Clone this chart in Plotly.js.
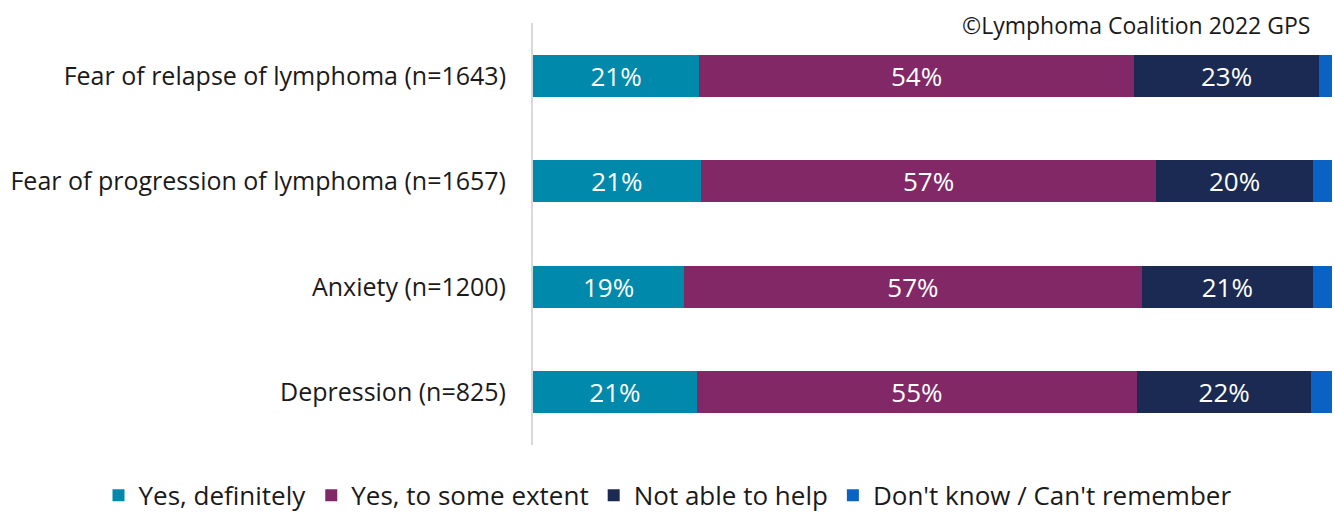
<!DOCTYPE html>
<html><head><meta charset="utf-8">
<script src="https://cdn.plot.ly/plotly-3.0.1.min.js"></script>
<style>html,body{margin:0;padding:0;background:#fff}#chart{width:1335px;height:514px}</style>
</head><body><div id="chart"></div>
<script>
const categories = ["Fear of relapse of lymphoma (n=1643)", "Fear of progression of lymphoma (n=1657)", "Anxiety (n=1200)", "Depression (n=825)"];
const seriesNames = ["Yes, definitely", "Yes, to some extent", "Not able to help", "Don't know / Can't remember"];
const yesDefinitely = [20.8, 21.0, 18.9, 20.5];
const yesSomeExtent = [54.4, 57.0, 57.3, 55.1];
const notAbleToHelp = [23.2, 19.6, 21.4, 21.8];
const dontKnow = [1.6, 2.4, 2.4, 2.6];
const labelsDefinitely = ["21%", "21%", "19%", "21%"];
const labelsSomeExtent = ["54%", "57%", "57%", "55%"];
const labelsNotAble = ["23%", "20%", "21%", "22%"];
const colors = ["#0089AB", "#832867", "#1B2A52", "#0A63C4"];

const FONT = "Open Sans, Noto Sans, sans-serif";
const series = [yesDefinitely, yesSomeExtent, notAbleToHelp, dontKnow];
const labels = [labelsDefinitely, labelsSomeExtent, labelsNotAble, null];
const traces = series.map((vals, i) => {
  const t = {
    type: "bar", orientation: "h", name: seriesNames[i],
    y: categories, x: vals,
    marker: {color: colors[i], line: {width: 0}},
    hoverinfo: "skip", width: 0.4
  };
  if (labels[i]) {
    t.text = labels[i];
    t.textposition = "inside";
    t.insidetextanchor = "middle";
    t.textfont = {color: "#ffffff", size: 26, family: FONT};
  } else {
    t.textposition = "none";
  }
  return t;
});
const layout = {
  width: 1335, height: 514,
  margin: {l: 3, r: 3, t: 23, b: 69},
  barmode: "stack",
  paper_bgcolor: "#ffffff", plot_bgcolor: "#ffffff",
  font: {family: FONT, color: "#1a1a1a", size: 25},
  xaxis: {range: [0, 100], domain: [0.3988, 1], visible: false, fixedrange: true},
  yaxis: {autorange: "reversed", showline: true, linecolor: "#d9d9d9", linewidth: 2,
          showgrid: false, zeroline: false, ticks: "", ticklabelstandoff: 20,
          automargin: false,
          tickfont: {size: 25, color: "#1a1a1a", family: FONT}},
  showlegend: true,
  legend: {orientation: "h", x: 0.5, xanchor: "center",
           yref: "container", y: 0.082, yanchor: "top",
           font: {size: 26, color: "#1a1a1a", family: FONT},
           traceorder: "normal", itemclick: false},
  annotations: [{text: "©Lymphoma Coalition 2022 GPS", xref: "paper", yref: "paper",
                 x: 0.985, xanchor: "right", y: 1, yanchor: "middle", yshift: -2,
                 showarrow: false, font: {size: 23, color: "#1a1a1a", family: FONT}}]
};
Plotly.newPlot("chart", traces, layout, {staticPlot: true});
</script></body></html>
